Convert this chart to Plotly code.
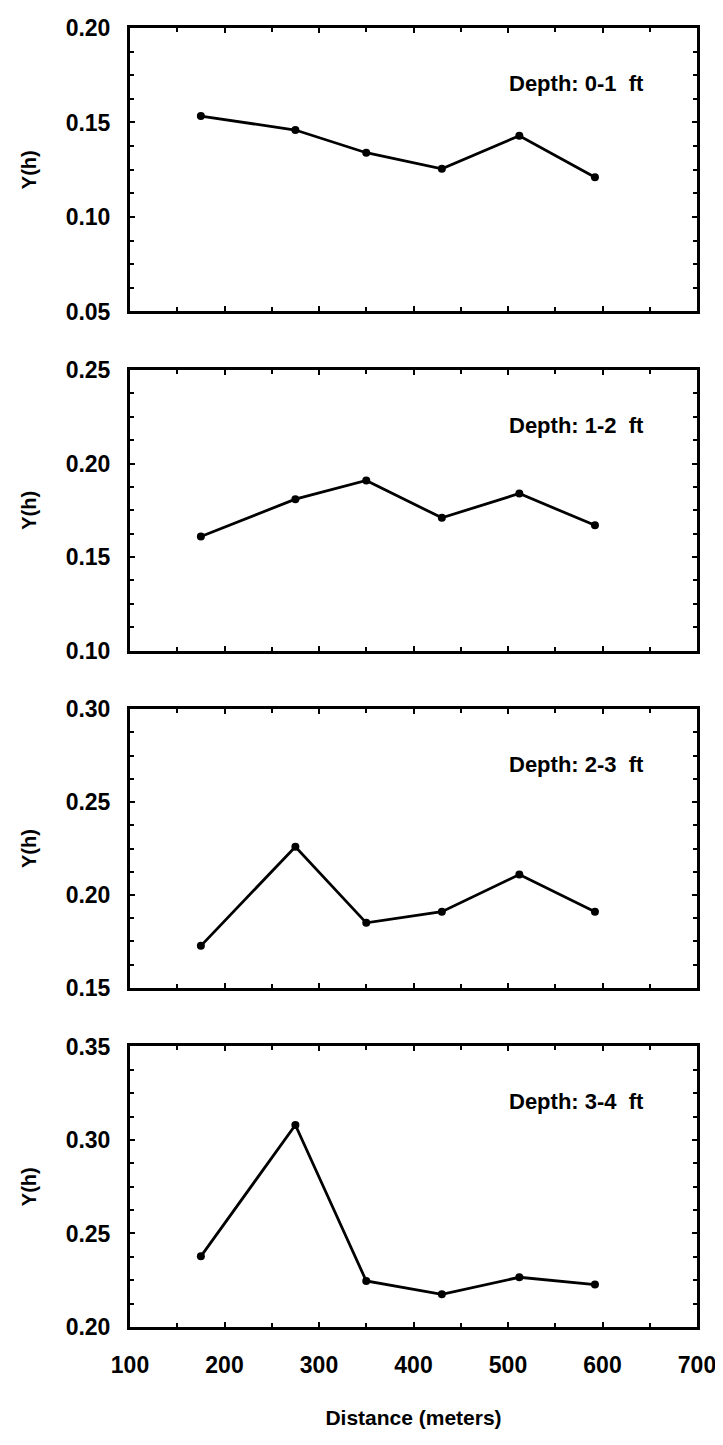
import plotly.graph_objects as go

distance = [175, 275, 350, 430, 512, 592]
y_0_1 = [0.1534, 0.146, 0.134, 0.1255, 0.143, 0.121]
y_1_2 = [0.161, 0.181, 0.191, 0.171, 0.184, 0.167]
y_2_3 = [0.1726, 0.226, 0.185, 0.191, 0.211, 0.191]
y_3_4 = [0.2378, 0.308, 0.2246, 0.2175, 0.2266, 0.2227]
series = [y_0_1, y_1_2, y_2_3, y_3_4]
labels = ["Depth: 0-1  ft", "Depth: 1-2  ft", "Depth: 2-3  ft", "Depth: 3-4  ft"]
yranges = [[0.05, 0.20], [0.10, 0.25], [0.15, 0.30], [0.20, 0.35]]
xticks = [100, 200, 300, 400, 500, 600, 700]

# page body has an 8px default margin; geometry below is in window pixels
OFF = 8
W, H = 715, 1425
top_px = [15, 365, 712, 1057]
bot_px = [305, 652, 997, 1344]
left_px, right_px = 130, 698
ml = left_px - OFF
mr = OFF + W - right_px
mt = top_px[0] - OFF
mb = H - (bot_px[-1] - OFF)
ph = H - mt - mb

font = dict(family="Liberation Sans, Arial, sans-serif", color="black", weight="bold")

fig = go.Figure()
for i in range(4):
    n = "" if i == 0 else str(i + 1)
    fig.add_trace(go.Scatter(
        x=distance, y=series[i], mode="lines+markers",
        line=dict(color="black", width=2.8),
        marker=dict(color="black", size=8),
        xaxis="x" + n, yaxis="y" + n, showlegend=False))
    d0 = (bot_px[-1] - bot_px[i]) / ph
    d1 = (bot_px[-1] - top_px[i]) / ph
    ax = dict(
        domain=[d0, d1], range=yranges[i], anchor="x" + n,
        tickvals=[yranges[i][0] + k * 0.05 for k in range(4)],
        tickformat=".2f", ticks="inside", ticklen=5, tickwidth=2,
        tickcolor="black", showline=True, linecolor="black", linewidth=3,
        mirror="ticks", showgrid=False, zeroline=False,
        tickfont=dict(size=23, **font), ticklabelstandoff=12,
        minor=dict(dtick=0.0125, ticks="inside", ticklen=4, tickwidth=1.5,
                   tickcolor="black", showgrid=False),
        title=dict(text="Y(h)", font=dict(size=20, **font), standoff=24),
    )
    xa = dict(
        range=[100, 700], anchor="y" + n, domain=[0, 1],
        tickvals=xticks, ticks="inside", ticklen=5, tickwidth=2,
        tickcolor="black", showline=True, linecolor="black", linewidth=3,
        mirror="ticks", showgrid=False, zeroline=False,
        showticklabels=(i == 3),
        tickfont=dict(size=23, **font), ticklabelstandoff=15,
        minor=dict(dtick=50, ticks="inside", ticklen=4, tickwidth=1.5,
                   tickcolor="black", showgrid=False),
    )
    if i == 3:
        xa["title"] = dict(text="Distance (meters)", font=dict(size=21, **font), standoff=34)
    else:
        xa["matches"] = "x4"
    fig.layout["yaxis" + n] = ax
    fig.layout["xaxis" + n] = xa
    fig.add_annotation(
        x=0.665, y=1 - 57 / 290, xref="x" + n + " domain", yref="y" + n + " domain",
        text=labels[i], showarrow=False, xanchor="left",
        yanchor="middle", font=dict(size=22, **font))

fig.update_layout(
    width=W, height=H, margin=dict(l=ml, r=mr, t=mt, b=mb),
    paper_bgcolor="white", plot_bgcolor="white",
    font=dict(family="Liberation Sans, Arial, sans-serif", color="black"))

fig.write_html("out.html")
